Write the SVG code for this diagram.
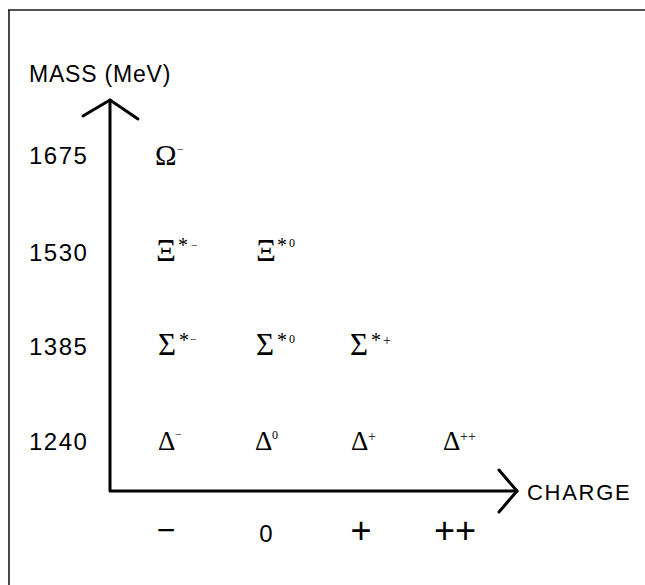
<svg xmlns="http://www.w3.org/2000/svg" width="645" height="585" viewBox="0 0 645 585">
<style>
.frame{stroke:#1a1a1a;stroke-width:1.6;fill:none}
.axis{stroke:#000;stroke-width:3;fill:none;stroke-linejoin:round;stroke-linecap:round}
.sans{font-family:"Liberation Sans",Arial,sans-serif;fill:#000}
.lab{font-size:23px;letter-spacing:0.8px}
.num{font-size:24px;letter-spacing:1.5px}
.chg{font-size:22px;letter-spacing:1.7px}
.serif{font-family:"Liberation Serif","DejaVu Serif",serif;fill:#000}
.g{font-size:31px}
.go{font-size:29px}
.gd{font-size:27px}
.ast{font-size:20px}
.sup{font-size:12px}
.supm{font-size:14px}
.tick{font-family:"Liberation Sans",Arial,sans-serif;fill:#000;text-anchor:middle}
</style>
<rect width="645" height="585" fill="#fff"/>
<g id="frame">
<line class="frame" x1="8" y1="10" x2="645" y2="10"/>
<line class="frame" x1="9" y1="10" x2="9" y2="585"/>
</g>
<g id="connectors">
<path class="axis" d="M110,100 V491 H517"/>
<polyline class="axis" points="83,116 110,100 138,119"/>
<polyline class="axis" points="499,470 517,491 499,512"/>
</g>
<g id="axis-labels">
<text class="sans lab" x="29" y="82">MASS (MeV)</text>
<text class="sans chg" x="527" y="500">CHARGE</text>
</g>
<g id="mass-labels">
<text class="sans num" x="29" y="164">1675</text>
<text class="sans num" x="29" y="261">1530</text>
<text class="sans num" x="29" y="355">1385</text>
<text class="sans num" x="29" y="450">1240</text>
</g>
<g id="charge-labels">
<text class="tick" x="166" y="541" font-size="32">−</text>
<text class="tick" x="266" y="542" font-size="24">0</text>
<text class="tick" x="361" y="543" font-size="36">+</text>
<text class="tick" x="455" y="543" font-size="36">++</text>
</g>
<g id="omega-minus">
<text class="serif go" x="155" y="165">Ω</text>
<text class="serif sup" x="177" y="153">−</text>
</g>
<g id="xi-star-minus">
<text class="serif g" x="156" y="261">Ξ</text>
<text class="serif ast" x="178" y="252">*</text>
<text class="serif sup" x="191" y="249">−</text>
</g>
<g id="xi-star-zero">
<text class="serif g" x="256" y="261">Ξ</text>
<text class="serif ast" x="277" y="252">*</text>
<text class="serif sup" x="289" y="247">0</text>
</g>
<g id="sigma-star-minus">
<text class="serif g" x="158" y="355">Σ</text>
<text class="serif ast" x="179" y="347">*</text>
<text class="serif sup" x="190" y="343">−</text>
</g>
<g id="sigma-star-zero">
<text class="serif g" x="256" y="355">Σ</text>
<text class="serif ast" x="277" y="347">*</text>
<text class="serif sup" x="289" y="343">0</text>
</g>
<g id="sigma-star-plus">
<text class="serif g" x="350" y="355">Σ</text>
<text class="serif ast" x="371" y="347">*</text>
<text class="serif supm" x="383" y="345">+</text>
</g>
<g id="delta-minus">
<text class="serif gd" x="158" y="450">Δ</text>
<text class="serif sup" x="175" y="438">−</text>
</g>
<g id="delta-zero">
<text class="serif gd" x="255" y="450">Δ</text>
<text class="serif sup" x="272" y="439">0</text>
</g>
<g id="delta-plus">
<text class="serif gd" x="351" y="450">Δ</text>
<text class="serif supm" x="368" y="441">+</text>
</g>
<g id="delta-plus-plus">
<text class="serif gd" x="443" y="450">Δ</text>
<text class="serif supm" x="460" y="441">++</text>
</g>
</svg>
